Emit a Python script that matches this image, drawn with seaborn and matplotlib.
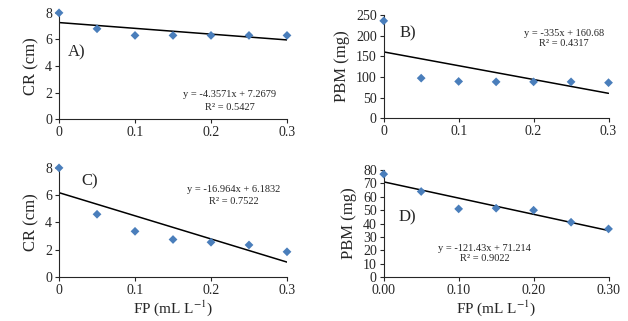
import seaborn as sns
import matplotlib.pyplot as plt
import pandas as pd
import numpy as np

# Data
fp = [0, 0.05, 0.10, 0.15, 0.20, 0.25, 0.30]
cr_a = [8.0, 6.8, 6.3, 6.3, 6.3, 6.3, 6.3]
pbm_b = [236, 97, 89, 88, 88, 88, 86]
cr_c = [8.0, 4.6, 3.35, 2.75, 2.55, 2.35, 1.85]
pbm_d = [77, 64, 51, 51.5, 50, 41, 36]

# Printed trendline equations
slopes = [-4.3571, -335, -16.964, -121.43]
intercepts = [7.2679, 160.68, 6.1832, 71.214]
r2_vals = ["0.5427", "0.4317", "0.7522", "0.9022"]
eq_texts = ["y = -4.3571x + 7.2679", "y = -335x + 160.68",
            "y = -16.964x + 6.1832", "y = -121.43x + 71.214"]

sns.set_style("ticks")
plt.rcParams['font.family'] = ['Liberation Serif', 'DejaVu Serif']
plt.rcParams['mathtext.fontset'] = 'stix'

fig = plt.figure(figsize=(6.28, 3.21), dpi=100)

#%% Panel settings
panels = [
    dict(y=cr_a, rect=[0.094, 0.629, 0.363, 0.331], ylim=(0, 8), yticks=np.arange(0, 9, 2),
         ylabel="CR (cm)", tag="A)", tag_xy=(0.04, 0.63), eq_xy=(0.75, 0.236, 0.113),
         xfmt="{:g}", xlabel=False),
    dict(y=pbm_b, rect=[0.611, 0.632, 0.358, 0.321], ylim=(0, 250), yticks=np.arange(0, 251, 50),
         ylabel="PBM (mg)", tag="B)", tag_xy=(0.07, 0.825), eq_xy=(0.80, 0.825, 0.728),
         xfmt="{:g}", xlabel=False),
    dict(y=cr_c, rect=[0.094, 0.137, 0.363, 0.340], ylim=(0, 8), yticks=np.arange(0, 9, 2),
         ylabel="CR (cm)", tag="C)", tag_xy=(0.10, 0.88), eq_xy=(0.765, 0.80, 0.69),
         xfmt="{:g}", xlabel=True),
    dict(y=pbm_d, rect=[0.611, 0.137, 0.358, 0.333], ylim=(0, 80), yticks=np.arange(0, 81, 10),
         ylabel="PBM (mg)", tag="D)", tag_xy=(0.065, 0.56), eq_xy=(0.45, 0.27, 0.17),
         xfmt="{:.2f}", xlabel=True),
]

xticks = [0, 0.1, 0.2, 0.3]

for i, p in enumerate(panels):
    ax = fig.add_axes(p["rect"])
    df = pd.DataFrame({"FP": fp, "val": p["y"]})

    # Trendline from the printed equation
    xl = np.array([0, 0.3])
    sns.lineplot(x=xl, y=slopes[i] * xl + intercepts[i], color="black", linewidth=1.1, ax=ax)

    # Points
    sns.scatterplot(data=df, x="FP", y="val", marker="D", s=20, color="#4a7ebb",
                    edgecolor="none", ax=ax, clip_on=False, zorder=3)

    ax.set_xlim(0, 0.3)
    ax.set_ylim(p["ylim"])
    ax.set_xticks(xticks)
    ax.set_xticklabels([p["xfmt"].format(t) for t in xticks])
    ax.set_yticks(p["yticks"])
    ax.tick_params(labelsize=10, length=3, width=0.8, pad=2)
    for s in ["left", "bottom"]:
        ax.spines[s].set_linewidth(0.8)
    sns.despine(ax=ax)

    ax.set_ylabel(p["ylabel"], fontsize=12, labelpad=4)
    if p["xlabel"]:
        ax.set_xlabel(r"FP (mL L$^{-1}$)", fontsize=11, labelpad=1)
    else:
        ax.set_xlabel("")

    ax.text(p["tag_xy"][0], p["tag_xy"][1], p["tag"], transform=ax.transAxes,
            fontsize=12, va="center", ha="left")
    ex, ey1, ey2 = p["eq_xy"]
    ax.text(ex, ey1, eq_texts[i], transform=ax.transAxes, fontsize=7.5, ha="center", va="center")
    ax.text(ex, ey2, "R² = " + r2_vals[i], transform=ax.transAxes, fontsize=7.5, ha="center", va="center")

fig.savefig("out.png", dpi=100)
